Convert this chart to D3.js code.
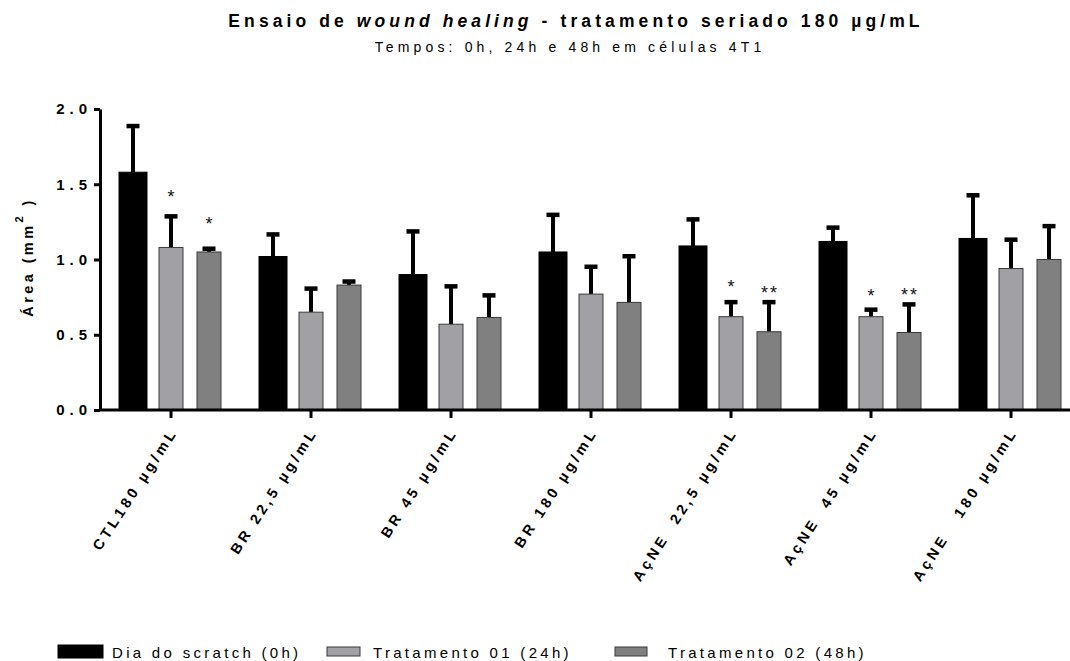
<!DOCTYPE html>
<html>
<head>
<meta charset="utf-8">
<script src="https://cdn.jsdelivr.net/npm/d3@7"></script>
<style>
  html, body { margin: 0; padding: 0; background: #fff; }
  svg { display: block; font-family: "Liberation Sans", Arial, sans-serif; }
  .lbl { white-space: pre; }
</style>
</head>
<body>
<svg id="chart" width="1070" height="661"></svg>
<script>
// Groups on the x axis
const categories = [
  "CTL180 µg/mL",
  "BR 22,5 µg/mL",
  "BR 45 µg/mL",
  "BR 180 µg/mL",
  "AçNE  22,5 µg/mL",
  "AçNE  45 µg/mL",
  "AçNE   180 µg/mL"
];
const seriesNames = ["Dia do scratch (0h)", "Tratamento 01 (24h)", "Tratamento 02 (48h)"];

// Mean wound area (mm²) per group
const area0h  = [1.58, 1.02, 0.90, 1.05, 1.09, 1.12, 1.14];
const area24h = [1.08, 0.65, 0.57, 0.77, 0.62, 0.62, 0.94];
const area48h = [1.05, 0.83, 0.615, 0.715, 0.52, 0.515, 1.00];

// Upper end of the error bar (mean + SD)
const upper0h  = [1.89, 1.17, 1.19, 1.30, 1.27, 1.215, 1.43];
const upper24h = [1.29, 0.81, 0.825, 0.955, 0.72, 0.67, 1.135];
const upper48h = [1.075, 0.857, 0.765, 1.025, 0.72, 0.705, 1.225];

// Significance marks: group, series, text, height in mm²
const sigGroup  = [0, 0, 4, 4, 5, 5];
const sigSeries = [1, 2, 1, 2, 1, 2];
const sigText   = ["*", "*", "*", "**", "*", "**"];
const sigLevel  = [1.45, 1.27, 0.85, 0.81, 0.79, 0.795];

const yTicks = [0, 0.5, 1.0, 1.5, 2.0];

const means = [area0h, area24h, area48h];
const uppers = [upper0h, upper24h, upper48h];

const fills   = ["#000000", "#a1a0a5", "#808080"];
const strokes = ["#000000", "#3a3a3a", "#3a3a3a"];
const barW    = [29, 25, 25];

const svg = d3.select("#chart");

const y = d3.scaleLinear().domain([0, 2]).range([410, 109]);
const x0 = d3.scaleBand().domain(categories).range([101, 1081]).padding(0);
const x1 = d3.scalePoint().domain([0, 1, 2]).range([32, 108]);

// Title
const title = svg.append("text")
  .attr("x", 576).attr("y", 27)
  .attr("text-anchor", "middle")
  .attr("font-size", 17.5).attr("font-weight", "bold")
  .attr("letter-spacing", 4.1)
  .attr("fill", "#000");
title.append("tspan").text("Ensaio de ");
title.append("tspan").attr("font-style", "italic").text("wound healing");
title.append("tspan").text(" - tratamento seriado 180 µg/mL");

svg.append("text")
  .attr("x", 570).attr("y", 52)
  .attr("text-anchor", "middle")
  .attr("font-size", 14).attr("letter-spacing", 4.15)
  .attr("fill", "#000")
  .text("Tempos: 0h, 24h e 48h em células 4T1");

// Bars
const rows = [];
categories.forEach((c, i) => {
  [0, 1, 2].forEach(s => rows.push({ c, i, s, v: means[s][i], u: uppers[s][i] }));
});

const cx = d => x0(d.c) + x1(d.s);

// Error bars (upper only), drawn beneath the bars
const err = svg.append("g");
err.selectAll("line.stem").data(rows).join("line")
  .attr("x1", cx).attr("x2", cx)
  .attr("y1", d => y(d.v)).attr("y2", d => y(d.u))
  .attr("stroke", "#000").attr("stroke-width", 4);
err.selectAll("line.cap").data(rows).join("line")
  .attr("x1", d => cx(d) - 6.5).attr("x2", d => cx(d) + 6.5)
  .attr("y1", d => y(d.u) + 0.5).attr("y2", d => y(d.u) + 0.5)
  .attr("stroke", "#000").attr("stroke-width", 4.5);

svg.append("g").selectAll("rect").data(rows).join("rect")
  .attr("x", d => cx(d) - barW[d.s] / 2 + 0.5)
  .attr("width", d => barW[d.s] - 1)
  .attr("y", d => y(d.v))
  .attr("height", d => y(0) - y(d.v))
  .attr("fill", d => fills[d.s])
  .attr("stroke", d => strokes[d.s])
  .attr("stroke-width", 1);

// Significance asterisks
svg.append("g").selectAll("text").data(sigText).join("text")
  .attr("x", (t, k) => x0(categories[sigGroup[k]]) + x1(sigSeries[k]) + 1)
  .attr("y", (t, k) => y(sigLevel[k]) + 11)
  .attr("text-anchor", "middle")
  .attr("font-size", 18).attr("letter-spacing", 2)
  .attr("fill", "#111")
  .text(t => t);

// Y axis
const yAxis = svg.append("g")
  .attr("transform", "translate(100,0)")
  .call(d3.axisLeft(y).tickValues(yTicks).tickFormat(d3.format(".1f")).tickSize(6).tickSizeOuter(0).tickPadding(2));
yAxis.select(".domain").attr("stroke-width", 3).attr("stroke", "#000");
yAxis.selectAll(".tick line").attr("stroke-width", 3).attr("stroke", "#000");
yAxis.selectAll(".tick text")
  .attr("font-family", "Liberation Sans, Arial, sans-serif")
  .attr("font-size", 15).attr("font-weight", "bold")
  .attr("letter-spacing", 5).attr("fill", "#000");

// X axis
const xAxis = svg.append("g")
  .attr("transform", "translate(0,410)")
  .call(d3.axisBottom(x0).tickSize(8).tickSizeOuter(0).tickFormat(""));
xAxis.select(".domain").remove();
xAxis.selectAll(".tick line").attr("stroke-width", 3).attr("stroke", "#000");
svg.append("line")
  .attr("x1", 99).attr("x2", 1070)
  .attr("y1", y(0)).attr("y2", y(0))
  .attr("stroke", "#000").attr("stroke-width", 3);

svg.append("g").selectAll("text").data(categories).join("text")
  .attr("class", "lbl")
  .attr("transform", d => `translate(${x0(d) + x0.bandwidth() / 2 + 7},${y(0) + 22}) rotate(-57)`)
  .attr("text-anchor", "end")
  .attr("font-size", 14.5).attr("font-weight", "bold")
  .attr("letter-spacing", 3.6)
  .attr("fill", "#000")
  .text(d => d);

// Y axis title
const yt = svg.append("text")
  .attr("transform", "translate(33,257) rotate(-90)")
  .attr("text-anchor", "middle")
  .attr("font-size", 14.5).attr("font-weight", "bold")
  .attr("letter-spacing", 3.4)
  .attr("fill", "#000");
yt.append("tspan").text("Área (mm");
yt.append("tspan").attr("font-size", 11).attr("dy", -10).text("2");
yt.append("tspan").attr("dy", 10).text(" )");

// Legend
const legX = [58, 327, 615];
const legTextX = [112, 373, 668];
const legSw = [[45, 13], [33, 9], [32, 9]];
const leg = svg.append("g").selectAll("g").data(seriesNames).join("g");
leg.append("rect")
  .attr("x", (d, s) => legX[s])
  .attr("y", (d, s) => 651.5 - legSw[s][1] / 2)
  .attr("width", (d, s) => legSw[s][0])
  .attr("height", (d, s) => legSw[s][1])
  .attr("fill", (d, s) => fills[s])
  .attr("stroke", (d, s) => strokes[s]).attr("stroke-width", 1);
leg.append("text")
  .attr("x", (d, s) => legTextX[s])
  .attr("y", 658)
  .attr("font-size", 15).attr("letter-spacing", 3.3)
  .attr("fill", "#000")
  .text(d => d);
</script>
</body>
</html>
